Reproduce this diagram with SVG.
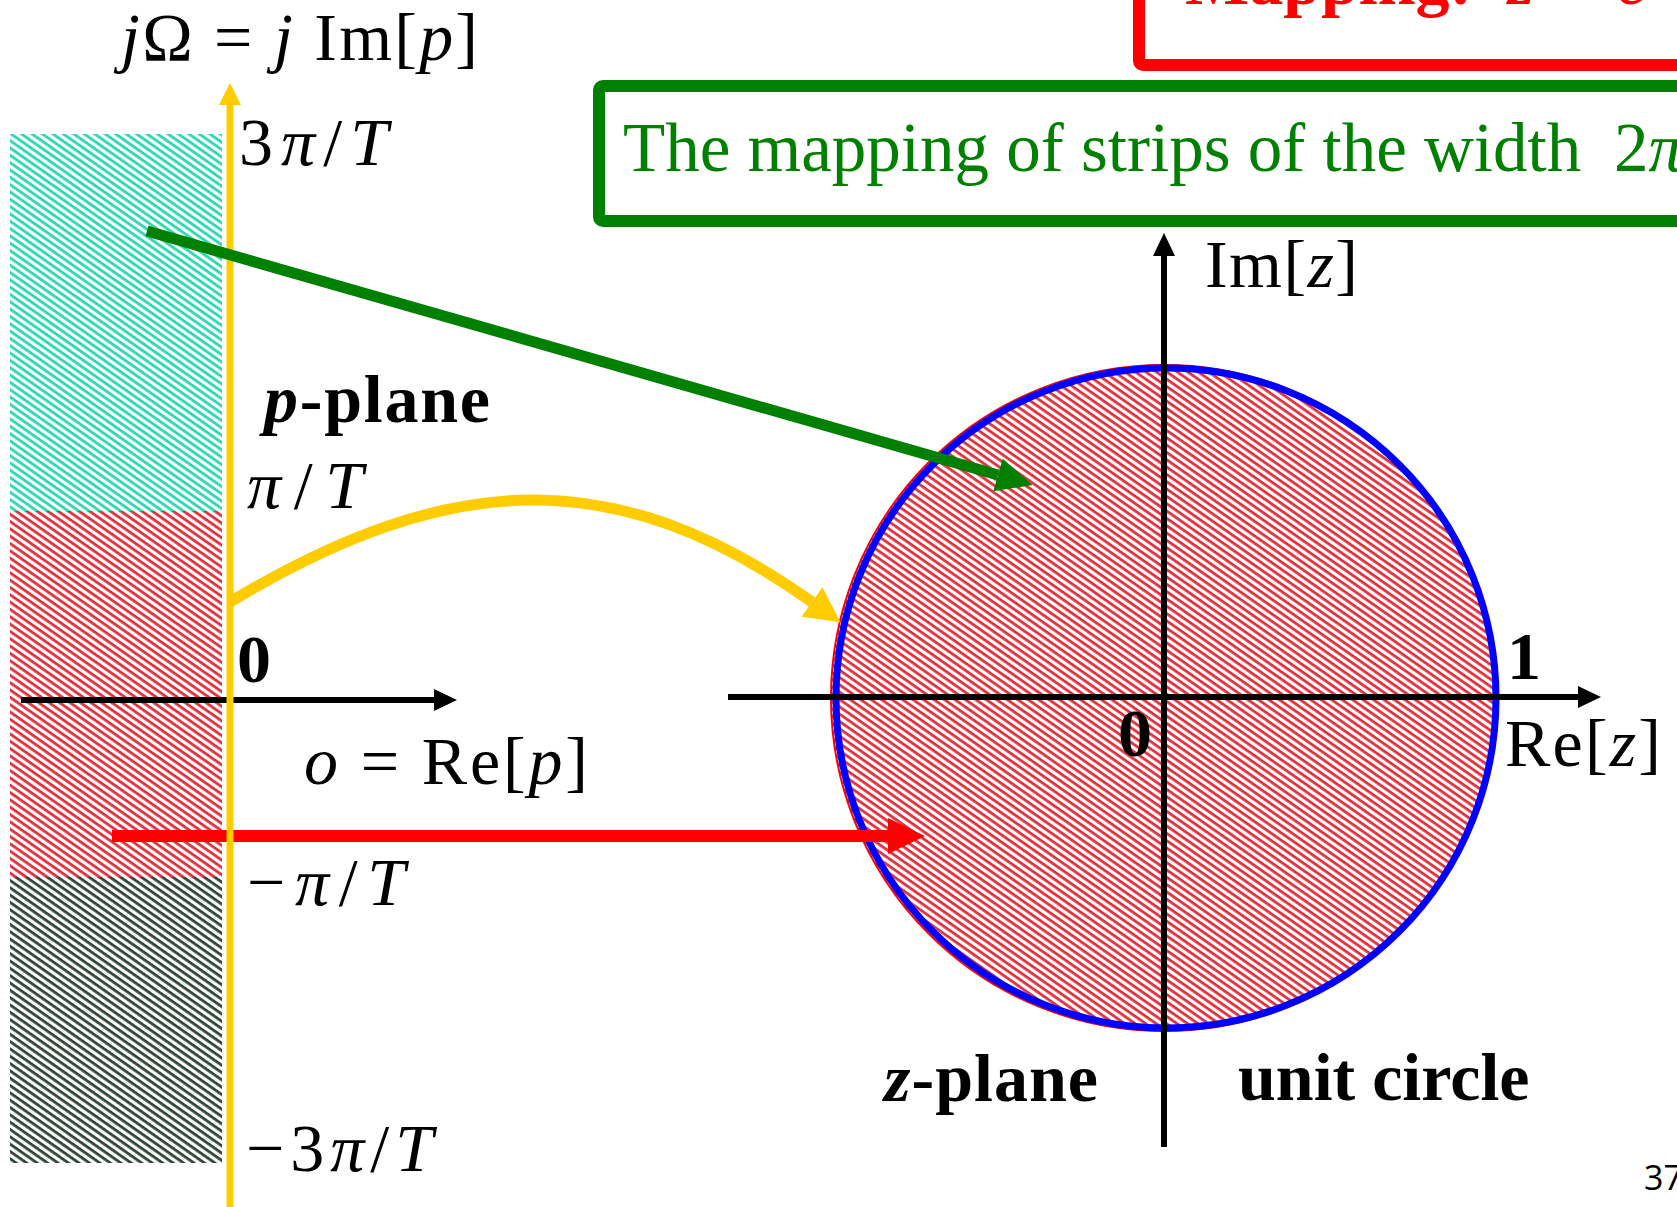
<svg xmlns="http://www.w3.org/2000/svg" width="1677" height="1207" viewBox="0 0 1677 1207">
<style>
.m{font-family:"Liberation Serif","Times New Roman",serif;font-size:68px;fill:#000}
.b{font-weight:bold}
.i{font-style:italic}
.ax{stroke:#000;stroke-width:6;fill:none}
</style>
<defs>
<pattern id="hCyan" patternUnits="userSpaceOnUse" width="6" height="6" patternTransform="rotate(35)">
<rect width="6" height="6" fill="#fff"/><rect width="6" height="2.8" fill="#2ad6b6"/>
</pattern>
<pattern id="hRed" patternUnits="userSpaceOnUse" width="6" height="6" patternTransform="rotate(35)">
<rect width="6" height="6" fill="#fff"/><rect width="6" height="2.8" fill="#e0303c"/>
</pattern>
<pattern id="hGray" patternUnits="userSpaceOnUse" width="6" height="6" patternTransform="rotate(35)">
<rect width="6" height="6" fill="#fff"/><rect width="6" height="2.8" fill="#2c4638"/>
</pattern>
<marker id="hBlack" markerUnits="userSpaceOnUse" markerWidth="30" markerHeight="30" refX="0" refY="0" orient="auto" overflow="visible">
<path d="M0,-11 L23,0 L0,11 z" fill="#000"/>
</marker>
<marker id="hYellowAx" markerUnits="userSpaceOnUse" markerWidth="30" markerHeight="30" refX="0" refY="0" orient="auto" overflow="visible">
<path d="M0,-11 L22,0 L0,11 z" fill="#FFCC00"/>
</marker>
<marker id="hGreen" markerUnits="userSpaceOnUse" markerWidth="40" markerHeight="40" refX="0" refY="0" orient="auto" overflow="visible">
<path d="M0,-17 L36,0 L0,17 z" fill="#008000"/>
</marker>
<marker id="hYellow" markerUnits="userSpaceOnUse" markerWidth="40" markerHeight="40" refX="0" refY="0" orient="auto" overflow="visible">
<path d="M0,-18 L35,0 L0,18 z" fill="#FFCC00"/>
</marker>
<marker id="hRedM" markerUnits="userSpaceOnUse" markerWidth="40" markerHeight="40" refX="0" refY="0" orient="auto" overflow="visible">
<path d="M0,-18 L37,0 L0,18 z" fill="#FF0000"/>
</marker>
</defs>
<rect width="1677" height="1207" fill="#fff"/>

<g id="title-red">
<rect x="1139" y="-20" width="620" height="85" rx="4" fill="none" stroke="#FF0000" stroke-width="12"/>
<text class="m b" x="1185" y="4" fill="#FF0000" style="fill:#FF0000">Mapping:<tspan class="i" x="1508">z</tspan><tspan x="1556">=</tspan><tspan class="i" x="1617" font-weight="normal">e</tspan></text>
</g>

<g id="title-green">
<rect x="599" y="86" width="1200" height="135" rx="4" fill="none" stroke="#008000" stroke-width="12"/>
<text class="m" x="623" y="171" font-size="69" style="fill:#008000;font-size:69px">The mapping of strips of the width <tspan x="1614">2</tspan><tspan class="i">π</tspan></text>
</g>

<g id="strips">
<rect id="strip-cyan" x="10" y="134" width="212" height="377" fill="url(#hCyan)"/>
<rect id="strip-red" x="10" y="511" width="212" height="366" fill="url(#hRed)"/>
<rect id="strip-gray" x="10" y="877" width="212" height="286" fill="url(#hGray)"/>
</g>

<g id="unit-circle">
<circle cx="1164" cy="698" r="333" fill="url(#hRed)" stroke="#FF0000" stroke-width="2"/>
<circle cx="1166" cy="698" r="330" fill="none" stroke="#0000FF" stroke-width="7"/>
</g>

<g id="z-axes">
<line class="ax" x1="728" y1="697" x2="1578" y2="697" marker-end="url(#hBlack)"/>
<line class="ax" x1="1164" y1="1147" x2="1164" y2="256" marker-end="url(#hBlack)"/>
</g>

<g id="connectors">
<line x1="112" y1="836" x2="888" y2="836" stroke="#FF0000" stroke-width="12" marker-end="url(#hRedM)"/>
<line class="ax" x1="21" y1="700" x2="434" y2="700" marker-end="url(#hBlack)"/>
<line x1="230" y1="1207" x2="230" y2="105" stroke="#FFCC00" stroke-width="7" marker-end="url(#hYellowAx)"/>
<path d="M230,602 C450,470 615,462 812,602" fill="none" stroke="#FFCC00" stroke-width="11" marker-end="url(#hYellow)"/>
<line x1="147" y1="231" x2="998" y2="475" stroke="#008000" stroke-width="11" marker-end="url(#hGreen)"/>
</g>

<g id="p-labels">
<text class="m" x="121" y="60" textLength="357" lengthAdjust="spacing"><tspan class="i">j</tspan>Ω = <tspan class="i">j</tspan> Im[<tspan class="i">p</tspan>]</text>
<text class="m" x="239" y="165" textLength="149" lengthAdjust="spacing">3<tspan class="i">π</tspan>/<tspan class="i">T</tspan></text>
<text class="m b" x="264" y="422" textLength="226" lengthAdjust="spacing"><tspan class="i">p</tspan>-plane</text>
<text class="m" x="247" y="508" textLength="116" lengthAdjust="spacing"><tspan class="i">π</tspan>/<tspan class="i">T</tspan></text>
<text class="m b" x="237" y="682">0</text>
<text class="m" x="304" y="784" textLength="284" lengthAdjust="spacing"><tspan class="i">o</tspan> = Re[<tspan class="i">p</tspan>]</text>
<text class="m" x="247" y="905" textLength="158" lengthAdjust="spacing">−<tspan class="i">π</tspan>/<tspan class="i">T</tspan></text>
<text class="m" x="246" y="1171" textLength="187" lengthAdjust="spacing">−3<tspan class="i">π</tspan>/<tspan class="i">T</tspan></text>
</g>

<g id="z-labels">
<text class="m" x="1205" y="287" textLength="153" lengthAdjust="spacing">Im[<tspan class="i">z</tspan>]</text>
<text class="m b" x="1507" y="679">1</text>
<text class="m b" x="1118" y="756">0</text>
<text class="m" x="1505" y="766" textLength="156" lengthAdjust="spacing">Re[<tspan class="i">z</tspan>]</text>
<text class="m b" x="884" y="1101" textLength="214" lengthAdjust="spacing"><tspan class="i">z</tspan>-plane</text>
<text class="m b" x="1238" y="1100">unit circle</text>
</g>

<g id="page-number">
<text x="1644" y="1190" font-family="'Open Sans','Liberation Sans',sans-serif" font-size="34" fill="#000">37</text>
</g>
</svg>
